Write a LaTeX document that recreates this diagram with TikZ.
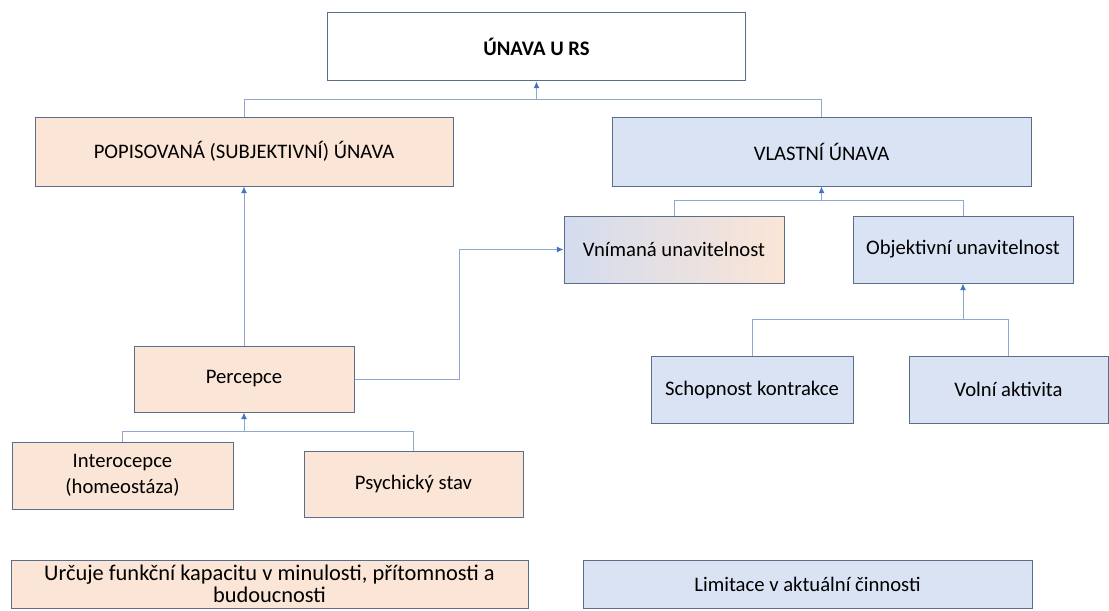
\documentclass[tikz,border=0pt]{standalone}
\usepackage{fontspec}
\setmainfont{Carlito}
\usetikzlibrary{arrows.meta}
\definecolor{peachfill}{HTML}{FBE5D6}
\definecolor{bluefill}{HTML}{DAE3F3}
\definecolor{boxline}{HTML}{5A6E8C}
\definecolor{linkcol}{HTML}{8EA8D2}
\definecolor{tipcol}{HTML}{4472C4}
\definecolor{gradleft}{HTML}{D3DCEE}
\definecolor{gradmid}{HTML}{A7B0C4}

\begin{document}
\begin{tikzpicture}[x=0.75pt,y=-0.75pt,
    box/.style={draw=boxline, line width=0.75pt, inner sep=2pt, align=center,
      font=\fontsize{15.5}{19.5}\selectfont},
    subjbox/.style={box, fill=peachfill},
    objbox/.style={box, fill=bluefill},
    link/.style={draw=linkcol, line width=0.75pt},
    arr/.style={link, -{Latex[length=5pt,width=4.5pt,color=tipcol]}}]
    \useasboundingbox (0,0) rectangle (1109,610);
    % Top of the tree
    \node[box, fill=white, minimum width=314pt, minimum height=51pt] (una) at (536.5,47) {\textbf{ÚNAVA U RS}};
    \node[subjbox, minimum width=313.5pt, minimum height=51.75pt] (popis) at (244,151.5) {POPISOVANÁ (SUBJEKTIVNÍ) ÚNAVA};
    \node[objbox, minimum width=314.25pt, minimum height=51.75pt] (vlast) at (821.5,151.5) {VLASTNÍ ÚNAVA};
    % Second level
    \node[box, left color=gradleft, middle color=gradmid, right color=peachfill,
      minimum width=165pt, minimum height=50.25pt] (vnim) at (674,249.5) {Vnímaná unavitelnost};
    \node[objbox, minimum width=165pt, minimum height=50.25pt] (objek) at (963,249.5) {Objektivní unavitelnost};
    \node[subjbox, minimum width=165pt, minimum height=49.5pt] (perc) at (244,379) {Percepce};
    \node[objbox, minimum width=151.5pt, minimum height=50.25pt] (schop) at (752,389.5) {Schopnost kontrakce};
    \node[objbox, minimum width=149.25pt, minimum height=50.25pt] (volni) at (1008.5,389.5) {Volní aktivita};
    \node[subjbox, minimum width=165.75pt, minimum height=50.25pt] (intero) at (122.5,475.5) {Interocepce\\(homeostáza)};
    \node[subjbox, minimum width=164.25pt, minimum height=49.5pt] (psych) at (413.5,484) {Psychický stav};
    % Bottom notes
    \node[subjbox, minimum width=387.75pt, minimum height=36pt, inner sep=0pt,
      font=\fontsize{16.8}{16.5}\selectfont] (urcuje) at (269.5,584) {Určuje funkční kapacitu v minulosti, přítomnosti a\\budoucnosti};
    \node[objbox, minimum width=336.75pt, minimum height=36pt] (limit) at (807.5,584) {Limitace v aktuální činnosti};
    % Junctions
    \coordinate (j1) at (536.5,99);
    \coordinate (j2) at (821.5,200);
    \coordinate (j3) at (963,319);
    \coordinate (j4) at (244,431);
    \coordinate (bend) at (459,249.5);
    % Connectors
    \draw[link] (popis.north) |- (j1);
    \draw[link] (vlast.north) |- (j1);
    \draw[arr] (j1) -- (una.south);
    \draw[link] (vnim.north) |- (j2);
    \draw[link] (objek.north) |- (j2);
    \draw[arr] (j2) -- (vlast.south);
    \draw[link] (schop.north) |- (j3);
    \draw[link] (volni.north) |- (j3);
    \draw[arr] (j3) -- (objek.south);
    \draw[link] (intero.north) |- (j4);
    \draw[link] (psych.north) |- (j4);
    \draw[arr] (j4) -- (perc.south);
    \draw[arr] (perc.north) -- (popis.south);
    \draw[arr] (perc.east) -| (bend) -- (vnim.west);
\end{tikzpicture}
\end{document}
